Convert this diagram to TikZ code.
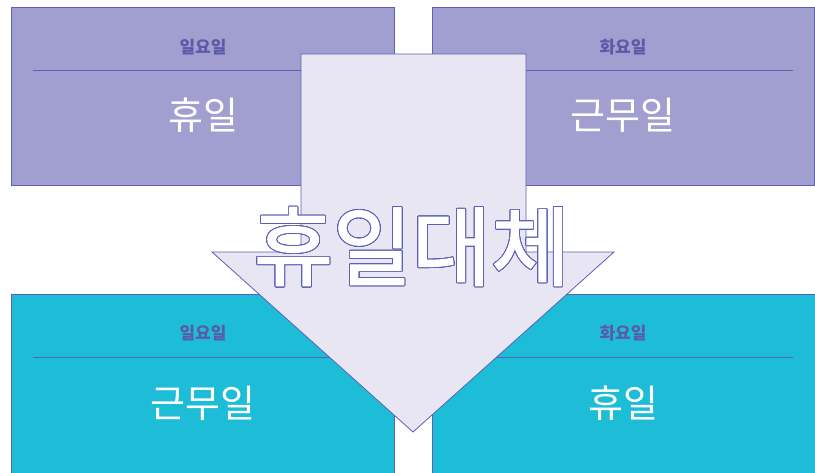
\documentclass[tikz,border=0pt]{standalone}
\usepackage{fontspec}
\setmainfont{Noto Sans CJK KR}
\newfontfamily\krfont{Noto Sans CJK KR}
\newfontfamily\bigfont{Noto Sans CJK KR}[FakeBold=1.6]
\usepackage[copies]{contour}
\contourlength{0.9pt}
\contournumber{32}
\definecolor{topfill}{HTML}{A09FCF}
\definecolor{botfill}{HTML}{1DBDD8}
\definecolor{edgec}{HTML}{5C60B8}
\definecolor{arrowfill}{HTML}{E7E6F2}
\definecolor{headc}{HTML}{5A5AA8}
\tikzset{
  daybox/.style={draw=edgec, line width=0.8pt},
  headtxt/.style={text=headc, font=\krfont\bfseries\fontsize{17}{19}\selectfont, inner sep=0pt},
  maintxt/.style={text=white, font=\krfont\fontsize{38}{42}\selectfont, inner sep=0pt},
  sepline/.style={draw=edgec, line width=0.9pt},
}
\begin{document}
\begin{tikzpicture}[x=1pt,y=-1pt]
\useasboundingbox (0,0) rectangle (815,472);
% boxes
\path[daybox, fill=topfill] (11,7) rectangle (394,185);
\path[daybox, fill=topfill] (432,7) rectangle (814,185);
\path[daybox, fill=botfill] (11,294) rectangle (394,480);
\path[daybox, fill=botfill] (432,294) rectangle (816,480);
% separators
\coordinate (l1a) at (33,70); \coordinate (l1b) at (373,70);
\coordinate (l2a) at (453,70); \coordinate (l2b) at (793,70);
\coordinate (l3a) at (33,357); \coordinate (l3b) at (373,357);
\coordinate (l4a) at (453,357); \coordinate (l4b) at (793,357);
\draw[sepline] (l1a) -- (l1b);
\draw[sepline] (l2a) -- (l2b);
\draw[sepline] (l3a) -- (l3b);
\draw[sepline] (l4a) -- (l4b);
% texts
\node[headtxt] (h1) at (203,47) {일요일};
\node[headtxt] (h2) at (623,47) {화요일};
\node[headtxt] (h3) at (203,333) {일요일};
\node[headtxt] (h4) at (623,333) {화요일};
\node[maintxt] (m1) at (203,115) {휴일};
\node[maintxt] (m2) at (623,115) {근무일};
\node[maintxt] (m3) at (203,403) {근무일};
\node[maintxt] (m4) at (623,403) {휴일};
% arrow
\draw[draw=edgec, line width=0.8pt, fill=arrowfill]
  (301,54) -- (526,54) -- (526,252) -- (614,252) -- (413,432) -- (212,252) -- (301,252) -- cycle;
\node[inner sep=0pt, font=\bigfont\fontsize{86}{92}\selectfont] (big) at (412,247)
  {\contour{edgec}{\textcolor{white}{휴일대체}}};
\end{tikzpicture}
\end{document}
